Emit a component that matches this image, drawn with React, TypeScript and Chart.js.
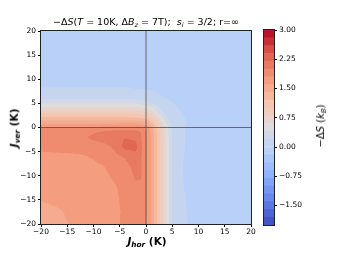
import React, { useEffect, useRef } from "react";
import { Chart, registerables } from "chart.js";
Chart.register(...registerables);

// J_hor grid positions (K)
const J_HOR = [-20, -17.5, -15, -12.5, -10, -8, -6, -4, -2, -1, 0, 1, 2, 3, 4, 5, 6, 7, 8, 10, 15, 20];
// J_ver grid positions (K), one row each below
const J_VER = [20, 15, 10, 8, 7, 6, 5, 4, 3, 2, 1, 0, -1, -2, -4, -6, -8, -10, -12.5, -15, -17.5, -20];

const ROW_Y20 = [-0.12, -0.12, -0.12, -0.12, -0.12, -0.12, -0.12, -0.12, -0.12, -0.12, -0.12, -0.12, -0.12, -0.12, -0.12, -0.12, -0.12, -0.12, -0.12, -0.12, -0.12, -0.12];
const ROW_Y15 = [-0.1, -0.1, -0.1, -0.1, -0.1, -0.1, -0.1, -0.1, -0.1, -0.1, -0.1, -0.1, -0.1, -0.1, -0.1, -0.1, -0.1, -0.1, -0.1, -0.1, -0.1, -0.1];
const ROW_Y10 = [-0.05, -0.05, -0.05, -0.05, -0.05, -0.05, -0.05, -0.05, -0.05, -0.05, -0.06, -0.06, -0.07, -0.07, -0.08, -0.08, -0.09, -0.09, -0.09, -0.1, -0.1, -0.1];
const ROW_Y8 = [0.01, 0.01, 0.01, 0.01, 0.01, 0.01, 0.01, 0.01, 0.0, -0.005, -0.01, -0.02, -0.03, -0.04, -0.05, -0.06, -0.07, -0.08, -0.08, -0.09, -0.1, -0.1];
const ROW_Y7 = [0.08, 0.08, 0.08, 0.08, 0.08, 0.08, 0.08, 0.08, 0.07, 0.06, 0.05, 0.03, 0.01, -0.02, -0.04, -0.05, -0.06, -0.07, -0.08, -0.09, -0.1, -0.1];
const ROW_Y6 = [0.14, 0.14, 0.14, 0.14, 0.14, 0.14, 0.14, 0.14, 0.14, 0.13, 0.12, 0.1, 0.07, 0.03, 0.0, -0.03, -0.05, -0.06, -0.07, -0.09, -0.1, -0.1];
const ROW_Y5 = [0.4, 0.4, 0.4, 0.4, 0.4, 0.4, 0.4, 0.4, 0.38, 0.33, 0.26, 0.17, 0.13, 0.08, 0.04, 0.01, -0.02, -0.04, -0.06, -0.08, -0.1, -0.1];
const ROW_Y4 = [0.68, 0.68, 0.68, 0.68, 0.68, 0.68, 0.68, 0.68, 0.67, 0.64, 0.6, 0.5, 0.3, 0.15, 0.08, 0.04, 0.0, -0.03, -0.05, -0.07, -0.1, -0.1];
const ROW_Y3 = [0.96, 0.96, 0.96, 0.96, 0.96, 0.96, 0.96, 0.96, 0.95, 0.92, 0.88, 0.75, 0.5, 0.25, 0.11, 0.06, 0.03, 0.0, -0.03, -0.06, -0.09, -0.1];
const ROW_Y2 = [1.24, 1.24, 1.24, 1.24, 1.24, 1.24, 1.24, 1.24, 1.23, 1.2, 1.15, 1.0, 0.75, 0.45, 0.19, 0.09, 0.05, 0.01, -0.02, -0.05, -0.09, -0.1];
const ROW_Y1 = [1.52, 1.52, 1.52, 1.52, 1.52, 1.52, 1.52, 1.52, 1.52, 1.5, 1.45, 1.25, 0.95, 0.65, 0.35, 0.13, 0.08, 0.03, -0.01, -0.05, -0.09, -0.1];
const ROW_Y0 = [1.8, 1.8, 1.8, 1.81, 1.83, 1.86, 1.88, 1.89, 1.88, 1.84, 1.75, 1.5, 1.15, 0.8, 0.45, 0.17, 0.1, 0.03, -0.02, -0.06, -0.09, -0.1];
const ROW_YM1 = [1.84, 1.85, 1.86, 1.9, 1.98, 2.04, 2.07, 2.08, 2.08, 2.01, 1.84, 1.57, 1.2, 0.85, 0.5, 0.18, 0.1, 0.02, -0.03, -0.07, -0.1, -0.1];
const ROW_YM2 = [1.85, 1.86, 1.88, 1.96, 2.04, 2.08, 2.13, 2.19, 2.16, 2.02, 1.85, 1.59, 1.23, 0.87, 0.52, 0.18, 0.11, 0.02, -0.03, -0.07, -0.1, -0.1];
const ROW_YM4 = [1.84, 1.85, 1.86, 1.88, 1.92, 1.95, 2.03, 2.27, 2.27, 2.05, 1.85, 1.59, 1.23, 0.87, 0.52, 0.18, 0.11, 0.02, -0.03, -0.07, -0.1, -0.1];
const ROW_YM6 = [1.76, 1.765, 1.77, 1.775, 1.82, 1.88, 1.95, 2.02, 2.13, 2.03, 1.85, 1.59, 1.23, 0.87, 0.52, 0.18, 0.11, 0.01, -0.03, -0.07, -0.1, -0.1];
const ROW_YM8 = [1.72, 1.72, 1.73, 1.74, 1.76, 1.8, 1.87, 1.94, 2.06, 2.02, 1.85, 1.59, 1.23, 0.87, 0.52, 0.18, 0.1, 0.0, -0.04, -0.07, -0.1, -0.1];
const ROW_YM10 = [1.69, 1.69, 1.7, 1.71, 1.73, 1.76, 1.83, 1.88, 2.03, 2.02, 1.85, 1.59, 1.23, 0.87, 0.52, 0.18, 0.1, 0.0, -0.04, -0.07, -0.1, -0.1];
const ROW_YM12_5 = [1.65, 1.65, 1.66, 1.67, 1.69, 1.72, 1.78, 1.86, 1.96, 1.95, 1.85, 1.59, 1.23, 0.87, 0.52, 0.18, 0.11, 0.01, -0.03, -0.07, -0.1, -0.1];
const ROW_YM15 = [1.605, 1.62, 1.63, 1.64, 1.66, 1.69, 1.76, 1.85, 1.9, 1.9, 1.85, 1.59, 1.23, 0.87, 0.52, 0.18, 0.11, 0.02, -0.02, -0.07, -0.1, -0.1];
const ROW_YM17_5 = [1.56, 1.58, 1.61, 1.63, 1.65, 1.68, 1.75, 1.84, 1.88, 1.88, 1.84, 1.59, 1.23, 0.87, 0.52, 0.19, 0.12, 0.03, -0.01, -0.06, -0.1, -0.1];
const ROW_YM20 = [1.52, 1.55, 1.598, 1.62, 1.64, 1.67, 1.75, 1.85, 1.87, 1.87, 1.83, 1.58, 1.23, 0.87, 0.52, 0.19, 0.12, 0.04, -0.005, -0.06, -0.1, -0.1];

const ROWS = [ROW_Y20, ROW_Y15, ROW_Y10, ROW_Y8, ROW_Y7, ROW_Y6, ROW_Y5, ROW_Y4, ROW_Y3, ROW_Y2, ROW_Y1, ROW_Y0,
  ROW_YM1, ROW_YM2, ROW_YM4, ROW_YM6, ROW_YM8, ROW_YM10, ROW_YM12_5, ROW_YM15, ROW_YM17_5, ROW_YM20];

// contour levels and tick labels
const LEVELS = [-2.0, -1.8, -1.6, -1.4, -1.2, -1.0, -0.8, -0.6, -0.4, -0.2, 0.0, 0.2, 0.4, 0.6, 0.8, 1.0, 1.2, 1.4, 1.6, 1.8, 2.0, 2.2, 2.4, 2.6, 2.8, 3.0];
const X_TICKS = [-20, -15, -10, -5, 0, 5, 10, 15, 20];
const Y_TICKS = [-20, -15, -10, -5, 0, 5, 10, 15, 20];
const CB_TICKS = [-1.5, -0.75, 0, 0.75, 1.5, 2.25, 3.0];

const FONT = "'DejaVu Sans', sans-serif";

// coolwarm colormap anchors
const CW: [number, number, number, number][] = [
  [0.0, 59, 76, 192], [0.125, 98, 130, 234], [0.25, 141, 176, 254], [0.375, 184, 208, 249],
  [0.5, 221, 221, 221], [0.625, 245, 196, 173], [0.75, 244, 154, 123], [0.875, 222, 96, 77], [1.0, 180, 4, 38],
];
function coolwarm(t: number): [number, number, number] {
  t = Math.max(0, Math.min(1, t));
  for (let i = 0; i < CW.length - 1; i++) {
    const a = CW[i], b = CW[i + 1];
    if (t <= b[0]) {
      const f = (t - a[0]) / (b[0] - a[0]);
      return [a[1] + (b[1] - a[1]) * f, a[2] + (b[2] - a[2]) * f, a[3] + (b[3] - a[3]) * f];
    }
  }
  return [180, 4, 38];
}
const L0 = LEVELS[0], L1 = LEVELS[LEVELS.length - 1];
const BAND_RGB = LEVELS.slice(0, -1).map((lo, i) => coolwarm(((lo + LEVELS[i + 1]) / 2 - L0) / (L1 - L0)));
const BAND_CSS = BAND_RGB.map(c => `rgb(${Math.round(c[0])},${Math.round(c[1])},${Math.round(c[2])})`);

function locate(arr: number[], v: number): [number, number] {
  for (let i = 0; i < arr.length - 1; i++) {
    const a = arr[i], b = arr[i + 1];
    if (v >= Math.min(a, b) && v <= Math.max(a, b)) return [i, (v - a) / (b - a)];
  }
  const lo = Math.min(arr[0], arr[arr.length - 1]);
  if (arr[0] === lo) return v < lo ? [0, 0] : [arr.length - 2, 1];
  return v < lo ? [arr.length - 2, 1] : [0, 0];
}
function sample(x: number, y: number): number {
  const [i, fx] = locate(J_HOR, x);
  const [j, fy] = locate(J_VER, y);
  const a = ROWS[j][i], b = ROWS[j][i + 1], c = ROWS[j + 1][i], d = ROWS[j + 1][i + 1];
  return (a * (1 - fx) + b * fx) * (1 - fy) + (c * (1 - fx) + d * fx) * fy;
}
function band(v: number): number {
  let k = 0;
  while (k < LEVELS.length - 2 && v >= LEVELS[k + 1]) k++;
  return k;
}

const heatmapPlugin = {
  id: "heatmap",
  beforeDatasetsDraw(chart: any) {
    const { ctx, chartArea: a, scales } = chart;
    const xs = scales.x, ys = scales.y;
    const left = Math.round(a.left), top = Math.round(a.top);
    const w = Math.round(a.right) - left, h = Math.round(a.bottom) - top;
    const img = ctx.createImageData(w, h);
    const offs = [0.25, 0.75];
    for (let py = 0; py < h; py++) {
      for (let px = 0; px < w; px++) {
        let r = 0, g = 0, b = 0;
        for (const oy of offs) for (const ox of offs) {
          const xv = xs.getValueForPixel(left + px + ox);
          const yv = ys.getValueForPixel(top + py + oy);
          const c = BAND_RGB[band(sample(xv, yv))];
          r += c[0]; g += c[1]; b += c[2];
        }
        const k = (py * w + px) * 4;
        img.data[k] = r / 4; img.data[k + 1] = g / 4; img.data[k + 2] = b / 4; img.data[k + 3] = 255;
      }
    }
    ctx.putImageData(img, left, top);
  },
};

const framePlugin = {
  id: "frame",
  afterDraw(chart: any) {
    const { ctx, chartArea: a } = chart;
    ctx.save();
    ctx.strokeStyle = "#222";
    ctx.lineWidth = 1;
    ctx.strokeRect(Math.round(a.left) - 0.5, Math.round(a.top) - 0.5, Math.round(a.right - a.left) + 1, Math.round(a.bottom - a.top) + 1);
    ctx.restore();
  },
};

const fmtTick = (v: any) => String(v).replace("-", "\u2212");

export default function App() {
  const mainRef = useRef<HTMLCanvasElement>(null);
  const cbRef = useRef<HTMLCanvasElement>(null);

  useEffect(() => {
    const tickFont = { family: FONT, size: 7.5 };
    const main = new Chart(mainRef.current!, {
      type: "scatter",
      data: {
        datasets: [
          { data: [{ x: 0, y: -20 }, { x: 0, y: 20 }], showLine: true, borderColor: "rgba(85,85,85,0.85)", borderWidth: 1, pointRadius: 0 },
          { data: [{ x: -20, y: 0 }, { x: 20, y: 0 }], showLine: true, borderColor: "rgba(85,85,85,0.85)", borderWidth: 1, pointRadius: 0 },
        ],
      },
      options: {
        responsive: false,
        animation: false,
        events: [],
        layout: { padding: { top: 31, right: 11, bottom: 0, left: 0 } },
        plugins: { legend: { display: false }, tooltip: { enabled: false } },
        scales: {
          x: {
            type: "linear", min: -20, max: 20,
            afterBuildTicks: (s: any) => { s.ticks = X_TICKS.map(v => ({ value: v })); },
            afterFit: (s: any) => { s.height = 29; },
            ticks: { font: tickFont, color: "#000", padding: 1, maxRotation: 0, autoSkip: false, callback: fmtTick },
            grid: { drawOnChartArea: false, drawTicks: true, tickLength: 3, color: "#000" },
            border: { display: false },
          },
          y: {
            type: "linear", min: -20, max: 20,
            afterBuildTicks: (s: any) => { s.ticks = Y_TICKS.map(v => ({ value: v })); },
            afterFit: (s: any) => { s.width = 41; },
            ticks: { font: tickFont, color: "#000", padding: 2, autoSkip: false, callback: fmtTick },
            grid: { drawOnChartArea: false, drawTicks: true, tickLength: 3, color: "#000" },
            border: { display: false },
          },
        },
      },
      plugins: [heatmapPlugin, framePlugin],
    } as any);

    const cb = new Chart(cbRef.current!, {
      type: "bar",
      data: {
        labels: [""],
        datasets: BAND_CSS.map((col, i) => ({
          data: [[LEVELS[i], LEVELS[i + 1]]],
          backgroundColor: col,
          borderWidth: 0,
          barPercentage: 1,
          categoryPercentage: 1,
        })),
      },
      options: {
        responsive: false,
        animation: false,
        events: [],
        layout: { padding: { top: 30, right: 0, bottom: 28, left: 9 } },
        plugins: { legend: { display: false }, tooltip: { enabled: false } },
        scales: {
          x: { display: false, stacked: true },
          y: {
            position: "right", stacked: false, min: L0, max: L1,
            afterBuildTicks: (s: any) => { s.ticks = CB_TICKS.map(v => ({ value: v })); },
            afterFit: (s: any) => { s.width = 63; },
            ticks: { font: tickFont, color: "#000", padding: 2, autoSkip: false, callback: (v: any) => Number(v).toFixed(2).replace("-", "\u2212") },
            grid: { drawOnChartArea: false, drawTicks: true, tickLength: 3, color: "#000" },
            border: { display: false },
          },
        },
      },
      plugins: [framePlugin],
    } as any);

    return () => { main.destroy(); cb.destroy(); };
  }, []);

  const sub: React.CSSProperties = { fontSize: "70%", position: "relative", top: "0.3em" };
  return (
    <div style={{ position: "fixed", left: 0, top: 0, width: 337, height: 253, background: "#fff", fontFamily: FONT, color: "#000", overflow: "hidden" }}>
      <canvas ref={mainRef} width={262} height={253} style={{ position: "absolute", left: 0, top: 0, width: 262, height: 253 }} />
      <canvas ref={cbRef} width={82} height={253} style={{ position: "absolute", left: 255, top: 0, width: 82, height: 253 }} />
      <div style={{ position: "absolute", left: 146, top: 22, transform: "translate(-50%,-50%)", whiteSpace: "nowrap", fontSize: 9.5, lineHeight: 1 }}>
        {"\u2212\u0394"}<i>S</i>(<i>T</i> = 10K, {"\u0394"}<i>B</i><span style={sub}><i>z</i></span> = 7T);&nbsp; <i>s</i><span style={sub}><i>i</i></span> = 3/2; r={"\u221e"}
      </div>
      <div style={{ position: "absolute", left: 147, top: 241, transform: "translate(-50%,-50%)", whiteSpace: "nowrap", fontSize: 10.5, fontWeight: "bold", lineHeight: 1 }}>
        <i>J</i><span style={sub}><i>hor</i></span> (K)
      </div>
      <div style={{ position: "absolute", left: 14, top: 128, transform: "translate(-50%,-50%) rotate(-90deg)", whiteSpace: "nowrap", fontSize: 10.5, fontWeight: "bold", lineHeight: 1 }}>
        <i>J</i><span style={sub}><i>ver</i></span> (K)
      </div>
      <div style={{ position: "absolute", left: 321, top: 126, transform: "translate(-50%,-50%) rotate(-90deg)", whiteSpace: "nowrap", fontSize: 10, lineHeight: 1 }}>
        {"\u2212\u0394"}<i>S</i> (<i>k</i><span style={sub}><i>B</i></span>)
      </div>
    </div>
  );
}
